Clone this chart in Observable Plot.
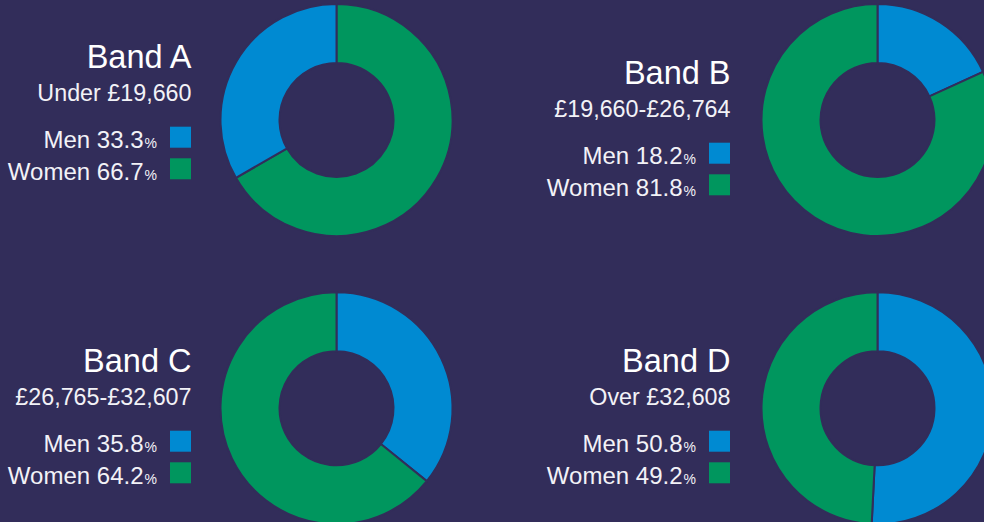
<!DOCTYPE html>
<html>
<head>
<meta charset="utf-8">
<script src="https://cdn.jsdelivr.net/npm/d3@7"></script>
<script src="https://cdn.jsdelivr.net/npm/@observablehq/plot@0.6"></script>
<style>
  html, body { margin: 0; padding: 0; background: #322d5a; }
  #chart { width: 984px; height: 522px; overflow: hidden; }
</style>
</head>
<body>
<div id="chart"></div>
<script>
// ---------- data ----------
const bands = ["Band A", "Band B", "Band C", "Band D"];
const ranges = ["Under £19,660", "£19,660-£26,764", "£26,765-£32,607", "Over £32,608"];
const sexes = ["Men", "Women"];
const menPct = [33.3, 18.2, 35.8, 50.8];
const womenPct = [66.7, 81.8, 64.2, 49.2];
// which group is drawn first, clockwise from 12 o'clock
const firstClockwise = ["Women", "Men", "Men", "Men"];

// ---------- layout & style ----------
const BG = "#322d5a";
const BLUE = "#008ad2";
const GREEN = "#00965e";
const FONT = "'Liberation Sans', Arial, Helvetica, sans-serif";
const centerX = [336.5, 877.5, 336.5, 877.5];
const centerY = [120, 120, 408.3, 408.3];
const textRight = [191, 730, 191, 730];
const titleBase = [67, 83, 371, 371];
const OUTER = 116, INNER = 57;

// ---------- derived tables ----------
const slices = bands.flatMap((band, i) => {
  const vals = {Men: menPct[i], Women: womenPct[i]};
  const order = firstClockwise[i] === "Men" ? ["Men", "Women"] : ["Women", "Men"];
  const pie = d3.pie().sort(null).value(s => vals[s])(order);
  return pie.map(p => ({band, sex: p.data, value: vals[p.data], startAngle: p.startAngle, endAngle: p.endAngle, cx: centerX[i], cy: centerY[i]}));
});

const headers = bands.map((band, i) => ({band, range: ranges[i], x: textRight[i], y: titleBase[i]}));

const legendRows = bands.flatMap((band, i) => sexes.map((sex, k) => {
  const base = titleBase[i] + (k === 0 ? 80.7 : 112.3);
  const pct = k === 0 ? menPct[i] : womenPct[i];
  return {band, sex, label: `${sex} ${pct.toFixed(1)}`, right: textRight[i], base};
}));

// ---------- chart ----------
const donut = Plot.dot(slices, {
  x: "cx",
  y: "cy",
  fill: "sex",
  render(index, scales, values) {
    const g = d3.create("svg:g");
    const arc = d3.arc().innerRadius(INNER).outerRadius(OUTER);
    for (const i of index) {
      g.append("path")
        .attr("transform", `translate(${values.x[i]},${values.y[i]})`)
        .attr("d", arc({startAngle: slices[i].startAngle, endAngle: slices[i].endAngle}))
        .attr("fill", values.fill[i])
        .attr("stroke", BG)
        .attr("stroke-width", 2)
        .attr("stroke-linejoin", "miter");
    }
    return g.node();
  }
});

const chart = Plot.plot({
  width: 984,
  height: 522,
  margin: 0,
  x: {type: "identity", axis: null},
  y: {type: "identity", axis: null},
  color: {domain: sexes, range: [BLUE, GREEN]},
  style: {background: BG, fontFamily: FONT, overflow: "visible"},
  marks: [
    donut,
    Plot.text(headers, {x: "x", y: "y", text: "band", textAnchor: "end", lineAnchor: "bottom", fontSize: 32.5, fill: "#ffffff"}),
    Plot.text(headers, {x: "x", y: d => d.y + 33, text: "range", textAnchor: "end", lineAnchor: "bottom", fontSize: 23.3, fill: "#f2f2f7"}),
    Plot.text(legendRows, {x: d => d.right - 48, y: "base", text: "label", textAnchor: "end", lineAnchor: "bottom", fontSize: 24, fill: "#f2f2f7"}),
    Plot.text(legendRows, {x: d => d.right - 47, y: "base", text: () => "%", textAnchor: "start", lineAnchor: "bottom", fontSize: 14, fill: "#f2f2f7"}),
    Plot.rect(legendRows, {x1: d => d.right - 21, x2: "right", y1: d => d.base - 21, y2: "base", fill: "sex"})
  ]
});

document.getElementById("chart").append(chart);
</script>
</body>
</html>
